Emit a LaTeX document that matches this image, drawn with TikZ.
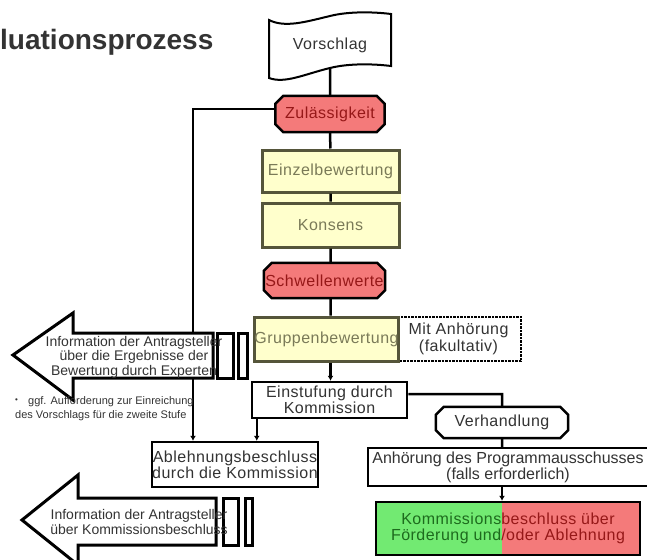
\documentclass[tikz,border=0pt]{standalone}
\usepackage{fontspec}
\setmainfont{Liberation Sans}
\newfontfamily\kastenfont[LetterSpace=3]{Liberation Sans}
\usetikzlibrary{arrows.meta,backgrounds}

\definecolor{rotfill}{HTML}{F47A7A}
\definecolor{rottext}{HTML}{961818}
\definecolor{gelbfill}{HTML}{FFFFCC}
\definecolor{gelbtext}{HTML}{7A7A58}
\definecolor{gelbrand}{HTML}{55553A}
\definecolor{gruenfill}{HTML}{72EA72}
\definecolor{gruentext}{HTML}{1D6B1D}
\definecolor{grautext}{HTML}{333333}

\begin{document}
\begin{tikzpicture}[x=1pt, y=-1pt,
    kasten/.style={draw, line width=2.5pt, fill=white, text=grautext, align=center, inner sep=0pt,
        font=\kastenfont\fontsize{16}{16}\selectfont},
    gelb/.style={kasten, draw=gelbrand, line width=3pt, fill=gelbfill, text=gelbtext},
    eck/.style={align=center, inner sep=0pt, font=\kastenfont\fontsize{16}{16}\selectfont},
    linie/.style={line width=2.5pt},
    pfeil/.style={line width=2.5pt, -{Latex[length=5pt,width=6pt]}},
    info/.style={align=center, inner sep=0pt, text=grautext, font=\fontsize{14}{14.5}\selectfont},
    balken/.style={draw, line width=3pt, fill=white, line join=miter},
  ]
    \useasboundingbox (0,0) rectangle (647,559);
    \clip (0,0) rectangle (647,559);

    \node[anchor=base west, inner sep=0pt, text=grautext, font=\fontsize{28}{28}\selectfont\bfseries] (titel) at (0,50) {luationsprozess};

    % Hauptstrang
    \node[eck, text=grautext, minimum width=122pt, minimum height=50pt] (vor) at (330,45) {Vorschlag};
    \coordinate (vorb) at (330,68);
    \node[eck, text=rottext, minimum width=109pt, minimum height=36pt] (zul) at (330,114) {Zulässigkeit};
    \node[gelb, minimum width=137pt, minimum height=42pt] (ein) at (330.5,171) {Einzelbewertung};
    \node[gelb, minimum width=137pt, minimum height=44pt] (kon) at (330.5,225) {Konsens};
    \node[eck, text=rottext, minimum width=121pt, minimum height=35pt] (sch) at (324.5,280.5) {Schwellenwerte};
    \node[kasten, densely dotted, minimum width=125pt, minimum height=44pt,
        font=\kastenfont\fontsize{16}{16.5}\selectfont] (mit) at (458.5,339) {Mit Anhörung\\(fakultativ)};
    \node[gelb, minimum width=139pt, minimum height=44pt] (gru) at (326.5,339) {Gruppenbewertung};
    \node[kasten, minimum width=155pt, minimum height=36pt] (est) at (329.5,400) {Einstufung durch\\Kommission};
    \node[eck, text=grautext, minimum width=132pt, minimum height=31pt] (ver) at (502,422.5) {Verhandlung};
    \node[kasten, minimum width=280pt, minimum height=38pt, font=\fontsize{16}{16}\selectfont] (anh) at (508,467)
        {Anhörung des Programmausschusses\\(falls erforderlich)};
    \node[kasten, fill=none, minimum width=264pt, minimum height=53pt] (kom) at (508,528.5)
        {\textcolor{gruentext}{Kommissions}\textcolor{rottext}{beschluss über}\\
         \textcolor{gruentext}{Förderung und}\textcolor{rottext}{/oder Ablehnung}};
    \node[kasten, minimum width=166pt, minimum height=45pt] (abl) at (235,464.5) {Ablehnungsbeschluss\\durch die Kommission};

    \begin{pgfonlayer}{background}
        \fill[gelbfill] (ein.south west) rectangle (kon.north east);
        \fill[gruenfill] (kom.north west) rectangle ([xshift=-6pt]kom.south);
        \fill[rotfill] ([xshift=-6pt]kom.north) rectangle (kom.south east);
        \foreach \n/\f in {zul/rotfill, sch/rotfill, ver/white}
            \draw[line width=2.5pt, fill=\f] ([xshift=8pt]\n.north west) -- ([xshift=-8pt]\n.north east)
                -- ([yshift=-8pt]\n.north east) -- ([yshift=8pt]\n.south east)
                -- ([xshift=-8pt]\n.south east) -- ([xshift=8pt]\n.south west)
                -- ([yshift=8pt]\n.south west) -- ([yshift=-8pt]\n.north west) -- cycle;
    \end{pgfonlayer}

    % Vorschlag als Band
    \draw[line width=2pt] (269,20) .. controls (285,28) and (305,22) .. (330,16)
        .. controls (350,11) and (375,12) .. (391,14) -- (391,66)
        .. controls (375,64) and (350,63) .. (vorb)
        .. controls (305,74) and (285,84) .. (269,78) -- cycle;

    \coordinate (knick) at (193,0);
    \draw[linie]
        (vorb) -- (zul)
        (zul) -- (ein)
        (ein) -- (kon)
        (kon) -- (kon |- sch.north)
        (kon |- sch.south) -- (kon |- gru.north)
        ([yshift=6pt]est.east) -| (ver)
        (ver) -- (ver |- anh.north);
    \draw[pfeil] (kon |- gru.south) -- (kon |- est.north);
    \draw[pfeil] ([yshift=5pt]zul.west) -| (knick |- abl.north);
    \draw[pfeil] ([xshift=6pt]est.south west) -- ([xshift=6pt]est.south west |- abl.north);
    \draw[pfeil] (ver |- anh.south) -- (ver |- kom.north);

    % Informationspfeile
    \draw[balken] (213,333) -- (73,333) -- (73,313) -- (13,355) -- (73,400) -- (73,378) -- (213,378) -- cycle;
    \draw[balken] (217,333) rectangle (233,378) (238,333) rectangle (247,378);
    \node[info] (info1) at (134,357) {Information der Antragsteller\\über die Ergebnisse der\\Bewertung durch Experten};

    \node[anchor=base west, align=left, inner sep=0pt, text=grautext, font=\fontsize{11}{14}\selectfont] (hinweis) at (15,418)
        {\makebox[13pt][l]{\raisebox{2pt}{\fontsize{8}{8}\selectfont •}}ggf. Aufforderung zur Einreichung\\des Vorschlags für die zweite Stufe};

    \draw[balken] (216,498) -- (78,498) -- (78,475) -- (22,520) -- (78,565) -- (78,545) -- (216,545) -- cycle;
    \draw[balken] (223,498) rectangle (238,545) (245,498) rectangle (252,545);
    \node[info] (info2) at (139,522) {Information der Antragsteller\\über Kommissionsbeschluss};
\end{tikzpicture}
\end{document}
